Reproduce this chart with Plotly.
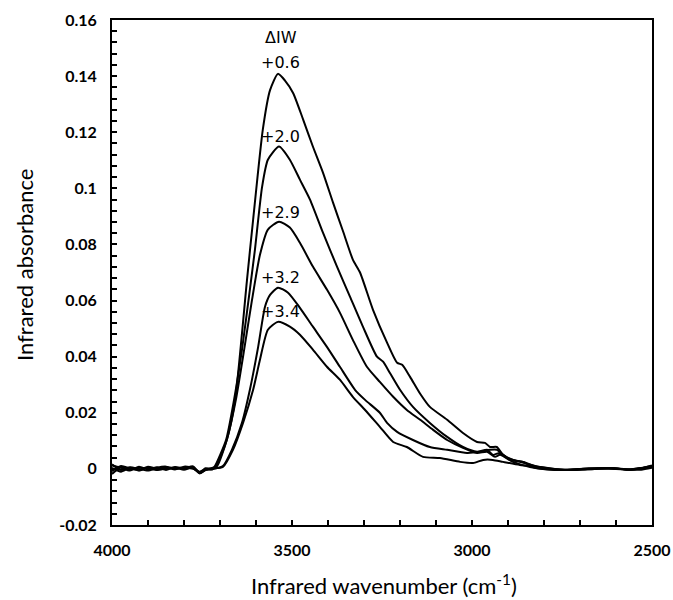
import plotly.graph_objects as go

# ---- data (wavenumber cm-1, absorbance) ----
baseline_wn = [4000, 3975, 3950, 3925, 3900, 3875, 3850, 3825, 3800, 3775, 3756, 3740, 3722]

wn_06 = baseline_wn + [3708, 3681, 3658, 3625, 3608, 3581, 3561, 3539, 3520, 3497, 3469, 3442, 3414,
                       3386, 3358, 3331, 3311, 3275, 3236, 3208, 3194, 3172, 3144, 3117, 3069, 3025,
                       2986, 2964, 2950, 2931, 2914, 2886, 2858, 2831, 2800, 2756, 2700, 2650, 2600,
                       2560, 2530, 2500]
ab_06 = [0.0012, 0.0004, -0.0006, 0.0008, -0.0002, 0.0006, -0.0004, 0.0007, 0.0002, 0.0009, -0.0015,
         -0.0004, 0.0000,
         0.0010, 0.0104, 0.0246, 0.0674, 0.0888, 0.1210, 0.1350, 0.1408, 0.1385, 0.1340, 0.1245,
         0.1149, 0.1056, 0.0949, 0.0846, 0.0746, 0.0700, 0.0567, 0.0450, 0.0378, 0.0371, 0.0328,
         0.0268, 0.0221, 0.0175, 0.0128, 0.0096, 0.0093, 0.0078, 0.0078, 0.0050, 0.0032, 0.0025,
         0.0007, 0.0000, -0.0003, 0.0000, 0.0002, 0.0000, -0.0003, 0.0002, 0.0012]

wn_20 = baseline_wn + [3714, 3683, 3661, 3639, 3617, 3603, 3583, 3567, 3536, 3506, 3478, 3450, 3414,
                       3375, 3339, 3303, 3264, 3247, 3228, 3200, 3164, 3117, 3069, 3025, 2986, 2958,
                       2942, 2922, 2894, 2858, 2819, 2780, 2730, 2680, 2620, 2570, 2530, 2500]
ab_20 = [-0.0008, 0.0010, 0.0002, -0.0005, 0.0008, 0.0000, 0.0006, -0.0002, 0.0008, 0.0003, -0.0012,
         0.0002, -0.0002,
         0.0010, 0.0104, 0.0246, 0.0424, 0.0639, 0.0781, 0.1006, 0.1102, 0.1149, 0.1102, 0.1031,
         0.0960, 0.0842, 0.0721, 0.0614, 0.0507, 0.0400, 0.0382, 0.0342, 0.0282, 0.0221, 0.0164,
         0.0114, 0.0078, 0.0061, 0.0068, 0.0050, 0.0057, 0.0032, 0.0025, 0.0007, 0.0000, -0.0004,
         0.0000, 0.0003, -0.0002, -0.0003, 0.0004, 0.0010]

wn_29 = baseline_wn + [3711, 3681, 3656, 3633, 3611, 3589, 3567, 3536, 3506, 3478, 3442, 3403, 3367,
                       3331, 3292, 3256, 3219, 3181, 3144, 3108, 3069, 3025, 2986, 2958, 2936, 2922,
                       2886, 2839, 2790, 2740, 2680, 2620, 2570, 2530, 2500]
ab_29 = [0.0016, -0.0004, 0.0006, 0.0000, -0.0006, 0.0004, 0.0008, 0.0000, 0.0005, 0.0000, -0.0010,
         0.0000, 0.0003,
         0.0010, 0.0104, 0.0246, 0.0424, 0.0603, 0.0763, 0.0853, 0.0881, 0.0860, 0.0806, 0.0721,
         0.0639, 0.0557, 0.0460, 0.0364, 0.0310, 0.0257, 0.0210, 0.0175, 0.0139, 0.0103, 0.0075,
         0.0057, 0.0061, 0.0043, 0.0050, 0.0025, 0.0007, -0.0002, -0.0004, 0.0001, 0.0002, -0.0002,
         0.0003, 0.0008]

wn_32 = baseline_wn + [3692, 3667, 3639, 3617, 3594, 3575, 3561, 3539, 3511, 3478, 3442, 3403, 3367,
                       3325, 3297, 3256, 3236, 3208, 3164, 3117, 3069, 3014, 2978, 2950, 2931, 2903,
                       2867, 2811, 2770, 2720, 2660, 2610, 2560, 2530, 2500]
ab_32 = [-0.0018, 0.0006, -0.0002, 0.0004, 0.0002, -0.0004, 0.0002, 0.0005, -0.0003, 0.0006, -0.0013,
         -0.0002, -0.0001,
         0.0010, 0.0068, 0.0164, 0.0282, 0.0435, 0.0578, 0.0620, 0.0646, 0.0628, 0.0574, 0.0507,
         0.0435, 0.0364, 0.0282, 0.0246, 0.0200, 0.0164, 0.0132, 0.0103, 0.0078, 0.0068, 0.0057,
         0.0061, 0.0068, 0.0068, 0.0039, 0.0025, 0.0007, -0.0001, -0.0004, 0.0000, 0.0003, -0.0003,
         0.0002, 0.0009]

wn_34 = baseline_wn + [3692, 3664, 3636, 3608, 3589, 3567, 3539, 3506, 3478, 3442, 3403, 3367, 3331,
                       3297, 3256, 3219, 3181, 3136, 3089, 3033, 2997, 2969, 2942, 2914, 2867, 2811,
                       2770, 2720, 2660, 2610, 2560, 2530, 2500]
ab_34 = [0.0004, -0.0010, 0.0004, -0.0006, 0.0005, -0.0002, 0.0000, 0.0003, 0.0001, 0.0003, -0.0016,
         -0.0003, 0.0001,
         0.0007, 0.0068, 0.0164, 0.0282, 0.0389, 0.0496, 0.0524, 0.0507, 0.0478, 0.0425, 0.0364,
         0.0318, 0.0257, 0.0210, 0.0150, 0.0096, 0.0078, 0.0043, 0.0039, 0.0025, 0.0021, 0.0032,
         0.0032, 0.0025, 0.0014, 0.0007, 0.0000, -0.0004, 0.0000, 0.0002, -0.0002, 0.0003, 0.0010]

series = [("+0.6", wn_06, ab_06), ("+2.0", wn_20, ab_20), ("+2.9", wn_29, ab_29),
          ("+3.2", wn_32, ab_32), ("+3.4", wn_34, ab_34)]

label_text = ["ΔIW", "+0.6", "+2.0", "+2.9", "+3.2", "+3.4"]
label_x = [3531, 3531, 3531, 3531, 3531, 3531]
label_y = [0.1538, 0.1450, 0.1183, 0.0914, 0.0682, 0.0560]

y_tickvals = [-0.02, 0, 0.02, 0.04, 0.06, 0.08, 0.1, 0.12, 0.14, 0.16]
y_ticktext = ["-0.02", "0", "0.02", "0.04", "0.06", "0.08", "0.1", "0.12", "0.14", "0.16"]
x_tickvals = [4000, 3500, 3000, 2500]
x_ticktext = ["4000", "3500", "3000", "2500"]

x_title = "Infrared wavenumber (cm<sup>-1</sup>)"
y_title = "Infrared absorbance"

fig = go.Figure()
for name, wn, ab in series:
    fig.add_trace(go.Scatter(x=wn, y=ab, mode="lines", name=name,
                             line=dict(color="black", width=2, shape="spline", smoothing=0.6),
                             showlegend=False))

for t, x, y in zip(label_text, label_x, label_y):
    fig.add_annotation(x=x, y=y, text=t, showarrow=False,
                       font=dict(family="DejaVu Sans", size=16, color="black"))

# axis titles placed as paper annotations
fig.add_annotation(xref="paper", yref="paper", x=-0.161, y=0.515, text=y_title, textangle=-90,
                   showarrow=False, xanchor="center", yanchor="middle",
                   font=dict(family="Lato", size=22, color="black"))
fig.add_annotation(xref="paper", yref="paper", x=0.504, y=-0.117, text=x_title,
                   showarrow=False, xanchor="center", yanchor="middle",
                   font=dict(family="Lato", size=22, color="black"))

tickfont = dict(family="Lato", size=16, color="black", weight="bold")
fig.update_layout(
    width=673, height=600,
    margin=dict(l=112, r=21, t=20, b=75),
    paper_bgcolor="white", plot_bgcolor="white",
    xaxis=dict(range=[4000, 2500], tickvals=x_tickvals, ticktext=x_ticktext,
               ticks="inside", ticklen=5, tickwidth=1.5, tickcolor="black",
               minor=dict(ticks="inside", dtick=100, tick0=2500, ticklen=5, tickwidth=1.5,
                          tickcolor="black", showgrid=False),
               showline=True, linecolor="black", linewidth=2, mirror=True, automargin=False,
               showgrid=False, zeroline=False, tickfont=tickfont, ticklabelstandoff=10),
    yaxis=dict(range=[-0.02, 0.16], tickvals=y_tickvals, ticktext=y_ticktext,
               ticks="inside", ticklen=5, tickwidth=1.5, tickcolor="black",
               minor=dict(ticks="inside", dtick=0.004, tick0=0, ticklen=5, tickwidth=1.5,
                          tickcolor="black", showgrid=False),
               showline=True, linecolor="black", linewidth=2, mirror=True, automargin=False,
               showgrid=False, zeroline=False, tickfont=tickfont, ticklabelstandoff=10),
)

fig.write_html("out.html", config={"displayModeBar": False},
               post_script="document.body.style.margin='0';document.body.style.overflow='hidden';")
